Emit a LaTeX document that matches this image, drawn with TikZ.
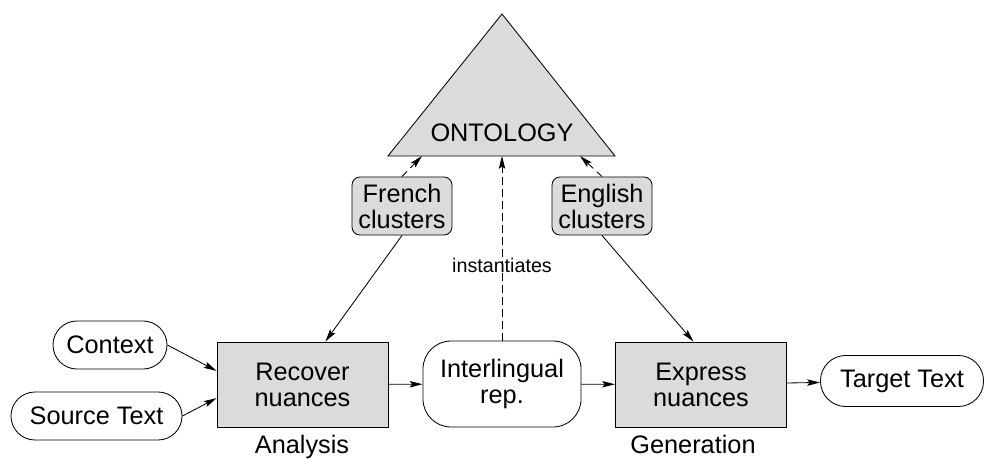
\documentclass[tikz,border=0pt]{standalone}
\usepackage{fontspec}
\setmainfont{Liberation Sans}
\usetikzlibrary{arrows.meta}
\definecolor{boxgray}{gray}{0.86}

\begin{document}
\begin{tikzpicture}[x=0.025cm,y=-0.025cm,line width=0.6pt]
		\useasboundingbox (0,0) rectangle (985,459);

		% the ontology
		\coordinate (apex) at (502,14);
		\coordinate (bl) at (388,156);
		\coordinate (br) at (615,156);
		\coordinate (fr) at (422,156);
		\coordinate (mid) at (502,156);
		\coordinate (en) at (580,156);
		\draw[fill=boxgray] (apex) -- (bl) -- (br) -- cycle;
		\node[anchor=base,font=\fontsize{18}{18.5}\selectfont] (ont) at (502,142) {ONTOLOGY};

		\begin{scope}[every node/.style={draw,align=center,inner sep=0pt,
		              font=\fontsize{18}{18.5}\selectfont}]
		    \node[fill=boxgray,rounded corners=0.2cm,minimum width=2.5cm,minimum height=1.45cm] (fc) at (402,206) {French\\clusters};
		    \node[fill=boxgray,rounded corners=0.2cm,minimum width=2.5cm,minimum height=1.45cm] (ec) at (602,206) {English\\clusters};
		    \node[rounded corners=0.6cm,minimum width=2.85cm,minimum height=1.2cm] (ctx) at (110,345) {Context};
		    \node[rounded corners=0.6cm,minimum width=4.275cm,minimum height=1.2cm] (src) at (96.5,416) {Source Text};
		    \node[fill=boxgray,minimum width=4.275cm,minimum height=2.125cm] (rec) at (302.5,384.5) {Recover\\nuances};
		    \node[rounded corners=0.7cm,minimum width=3.95cm,minimum height=2.15cm] (il) at (502,384) {Interlingual\\rep.};
		    \node[fill=boxgray,minimum width=4.275cm,minimum height=2.125cm] (exp) at (701,384.5) {Express\\nuances};
		    \node[rounded corners=0.63cm,minimum width=4.075cm,minimum height=1.275cm] (tgt) at (902,381) {Target Text};
		\end{scope}

		\begin{scope}[every node/.style={anchor=base,font=\fontsize{18}{18.5}\selectfont}]
		    \node (ana) at (302,453) {Analysis};
		    \node (gen) at (693,453) {Generation};
		\end{scope}

		\begin{scope}[>={Stealth[length=3.2mm,width=1.6mm,inset=0.6mm]},
		              every edge/.style={draw=black,->},
		              dsh/.style={dash pattern=on 1.8mm off 1.2mm}]
		    \path (ctx.east) edge (rec.171);
		    \path (src.east) edge (rec.189);
		    \path (rec) edge (il);
		    \path (il) edge (exp);
		    \path (exp) edge (tgt);
		    \path (fc.south) edge (rec.62);
		    \path (ec.south) edge (exp.100.7);
		    \path (fc.north) edge[dsh] (fr);
		    \path (ec.north) edge[dsh] (en);
		    \path (il.north) edge[dsh] node[pos=0.37,anchor=base,font=\fontsize{14}{16}\selectfont] {instantiates} (mid);
		\end{scope}
\end{tikzpicture}
\end{document}
